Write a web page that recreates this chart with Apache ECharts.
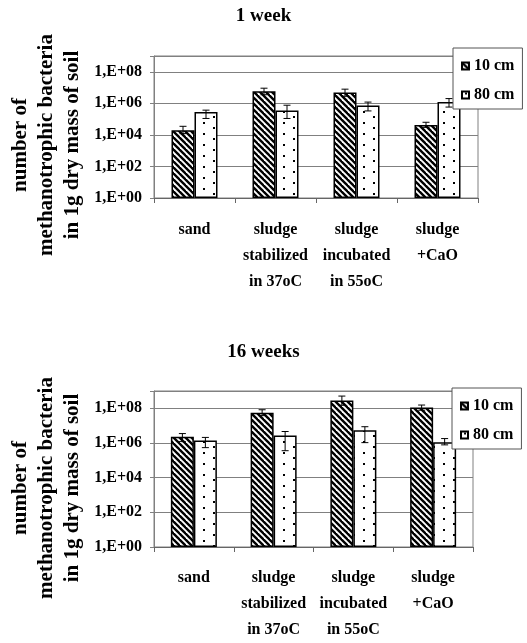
<!DOCTYPE html>
<html>
<head>
<meta charset="utf-8">
<script src="https://cdn.jsdelivr.net/npm/echarts@6/dist/echarts.min.js"></script>
<style>
  html, body { margin: 0; padding: 0; background: #fff; }
  #chart { width: 527px; height: 643px; }
</style>
</head>
<body>
<div id="chart"></div>
<script>
// categories and labels
const categories = ['sand', 'sludge\nstabilized\nin 37oC', 'sludge\nincubated\nin 55oC', 'sludge\n+CaO'];
const seriesNames = ['10 cm', '80 cm'];
const titles = ['1 week', '16 weeks'];
const yName = 'number of\nmethanotrophic bacteria\nin 1g dry mass of soil';
const yTickExponents = [0, 2, 4, 6, 8];
const yTickLabels = ['1,E+00', '1,E+02', '1,E+04', '1,E+06', '1,E+08'];

// 1 week
const week1_10cm = [2.0e4, 5.9e6, 4.8e6, 4.3e4];
const week1_10cmLow = [1.2e4, 3.5e6, 2.8e6, 3.0e4];
const week1_10cmHigh = [3.5e4, 9.1e6, 7.9e6, 6.3e4];
const week1_80cm = [2.8e5, 3.5e5, 7.4e5, 1.2e6];
const week1_80cmLow = [1.1e5, 1.1e5, 3.3e5, 5.8e5];
const week1_80cmHigh = [3.7e5, 7.6e5, 1.2e6, 2.0e6];

// 16 weeks
const week16_10cm = [2.3e6, 5.6e7, 2.8e8, 1.1e8];
const week16_10cmLow = [1.2e6, 3.8e7, 1.5e8, 7.8e7];
const week16_10cmHigh = [3.5e6, 8.3e7, 5.1e8, 1.55e8];
const week16_80cm = [1.4e6, 2.7e6, 5.4e6, 1.1e6];
const week16_80cmLow = [5.4e5, 3.6e5, 1.05e6, 7.8e5];
const week16_80cmHigh = [2.1e6, 4.6e6, 8.7e6, 1.8e6];

const FONT = '"Liberation Serif", "Times New Roman", serif';
const BAR_W = 23;

// fill patterns like the old excel hatching
function stripePattern() {
  const c = document.createElement('canvas');
  c.width = 6; c.height = 6;
  const ctx = c.getContext('2d');
  ctx.fillStyle = '#fff';
  ctx.fillRect(0, 0, 6, 6);
  ctx.strokeStyle = '#000';
  ctx.lineWidth = 2.4;
  for (let k = -1; k <= 1; k++) {
    ctx.beginPath();
    ctx.moveTo(-6, -6 + k * 6);
    ctx.lineTo(12, 12 + k * 6);
    ctx.stroke();
  }
  return c;
}
function dotPattern() {
  const c = document.createElement('canvas');
  c.width = 20; c.height = 11;
  const ctx = c.getContext('2d');
  ctx.fillStyle = '#fff';
  ctx.fillRect(0, 0, 20, 11);
  ctx.fillStyle = '#000';
  ctx.fillRect(3, 1, 2, 2);
  ctx.fillRect(13, 6, 2, 2);
  return c;
}
const stripes = stripePattern();
const dots = dotPattern();

function barSeries(name, idx, values, pattern) {
  return {
    name: name,
    type: 'bar',
    xAxisIndex: idx,
    yAxisIndex: idx,
    data: values,
    barWidth: BAR_W,
    barGap: '0%',
    silent: true,
    itemStyle: {
      color: { image: pattern, repeat: 'repeat' },
      borderColor: '#000',
      borderWidth: 1.5
    }
  };
}

function errorSeries(idx, low, high, side) {
  return {
    type: 'custom',
    xAxisIndex: idx,
    yAxisIndex: idx,
    z: 3,
    silent: true,
    data: low.map((l, i) => [i, l, high[i]]),
    encode: { x: 0, y: [1, 2] },
    renderItem: function (params, api) {
      const lo = api.coord([api.value(0), api.value(1)]);
      const hi = api.coord([api.value(0), api.value(2)]);
      const x = lo[0] + side * BAR_W / 2;
      const cap = 3.5;
      const st = { stroke: '#000', lineWidth: 1 };
      return {
        type: 'group',
        children: [
          { type: 'line', shape: { x1: x, y1: lo[1], x2: x, y2: hi[1] }, style: st },
          { type: 'line', shape: { x1: x - cap, y1: lo[1], x2: x + cap, y2: lo[1] }, style: st },
          { type: 'line', shape: { x1: x - cap, y1: hi[1], x2: x + cap, y2: hi[1] }, style: st }
        ]
      };
    }
  };
}

function yLabel(v) {
  const e = Math.round(Math.log10(v));
  const i = yTickExponents.indexOf(e);
  return i >= 0 ? yTickLabels[i] : '';
}

function xAxis(idx, margin) {
  return {
    type: 'category',
    gridIndex: idx,
    data: categories,
    axisLine: { lineStyle: { color: '#666', width: 1 } },
    axisTick: { show: true, length: 5, lineStyle: { color: '#666' } },
    axisLabel: {
      interval: 0, margin: margin,
      fontFamily: FONT, fontWeight: 'bold', fontSize: 16, color: '#000', lineHeight: 26
    }
  };
}

function yAxis(idx) {
  return {
    type: 'log',
    logBase: 100,
    gridIndex: idx,
    min: 1,
    max: 1e9,
    axisLine: { show: true, lineStyle: { color: '#808080' } },
    axisTick: { show: true, length: 4, lineStyle: { color: '#808080' } },
    splitLine: { show: true, lineStyle: { color: '#808080', width: 1 } },
    axisLabel: {
      margin: 12, formatter: yLabel,
      fontFamily: FONT, fontWeight: 'bold', fontSize: 16, color: '#000'
    }
  };
}

function legend(idx, left, top) {
  return {
    orient: 'vertical',
    left: left, top: top,
    padding: [8, 8, 4, 8],
    itemGap: 9,
    itemWidth: 7, itemHeight: 7,
    icon: 'rect',
    z: 5,
    borderColor: '#555', borderWidth: 1,
    backgroundColor: '#fff',
    selectedMode: false,
    textStyle: { fontFamily: FONT, fontWeight: 'bold', fontSize: 16, color: '#000', lineHeight: 20 },
    data: seriesNames
  };
}

function yNameText(cy) {
  return {
    type: 'text',
    x: 47, y: cy,
    rotation: Math.PI / 2,
    style: {
      text: yName,
      x: 0, y: 0,
      textAlign: 'center', textVerticalAlign: 'middle',
      font: 'bold 21px ' + FONT,
      lineHeight: 26,
      fill: '#000'
    }
  };
}

const chart = echarts.init(document.getElementById('chart'), null, { renderer: 'canvas' });
chart.setOption({
  animation: false,
  backgroundColor: '#fff',
  title: [
    { text: titles[0], left: 'center', top: 7, padding: 0,
      textStyle: { fontFamily: FONT, fontWeight: 'bold', fontSize: 19, color: '#000' } },
    { text: titles[1], left: 'center', top: 343, padding: 0,
      textStyle: { fontFamily: FONT, fontWeight: 'bold', fontSize: 19, color: '#000' } }
  ],
  legend: [legend(0, 453, 48), legend(1, 452, 388)],
  grid: [
    { left: 154, top: 56, width: 324, height: 142, show: true, borderColor: '#808080', borderWidth: 1, outerBoundsMode: 'none' },
    { left: 154, top: 391, width: 319, height: 156, show: true, borderColor: '#808080', borderWidth: 1, outerBoundsMode: 'none' }
  ],
  xAxis: [xAxis(0, 19), xAxis(1, 18)],
  yAxis: [yAxis(0), yAxis(1)],
  graphic: [yNameText(145), yNameText(488)],
  series: [
    barSeries(seriesNames[0], 0, week1_10cm, stripes),
    barSeries(seriesNames[1], 0, week1_80cm, dots),
    errorSeries(0, week1_10cmLow, week1_10cmHigh, -1),
    errorSeries(0, week1_80cmLow, week1_80cmHigh, 1),
    barSeries(seriesNames[0], 1, week16_10cm, stripes),
    barSeries(seriesNames[1], 1, week16_80cm, dots),
    errorSeries(1, week16_10cmLow, week16_10cmHigh, -1),
    errorSeries(1, week16_80cmLow, week16_80cmHigh, 1)
  ]
});
</script>
</body>
</html>
